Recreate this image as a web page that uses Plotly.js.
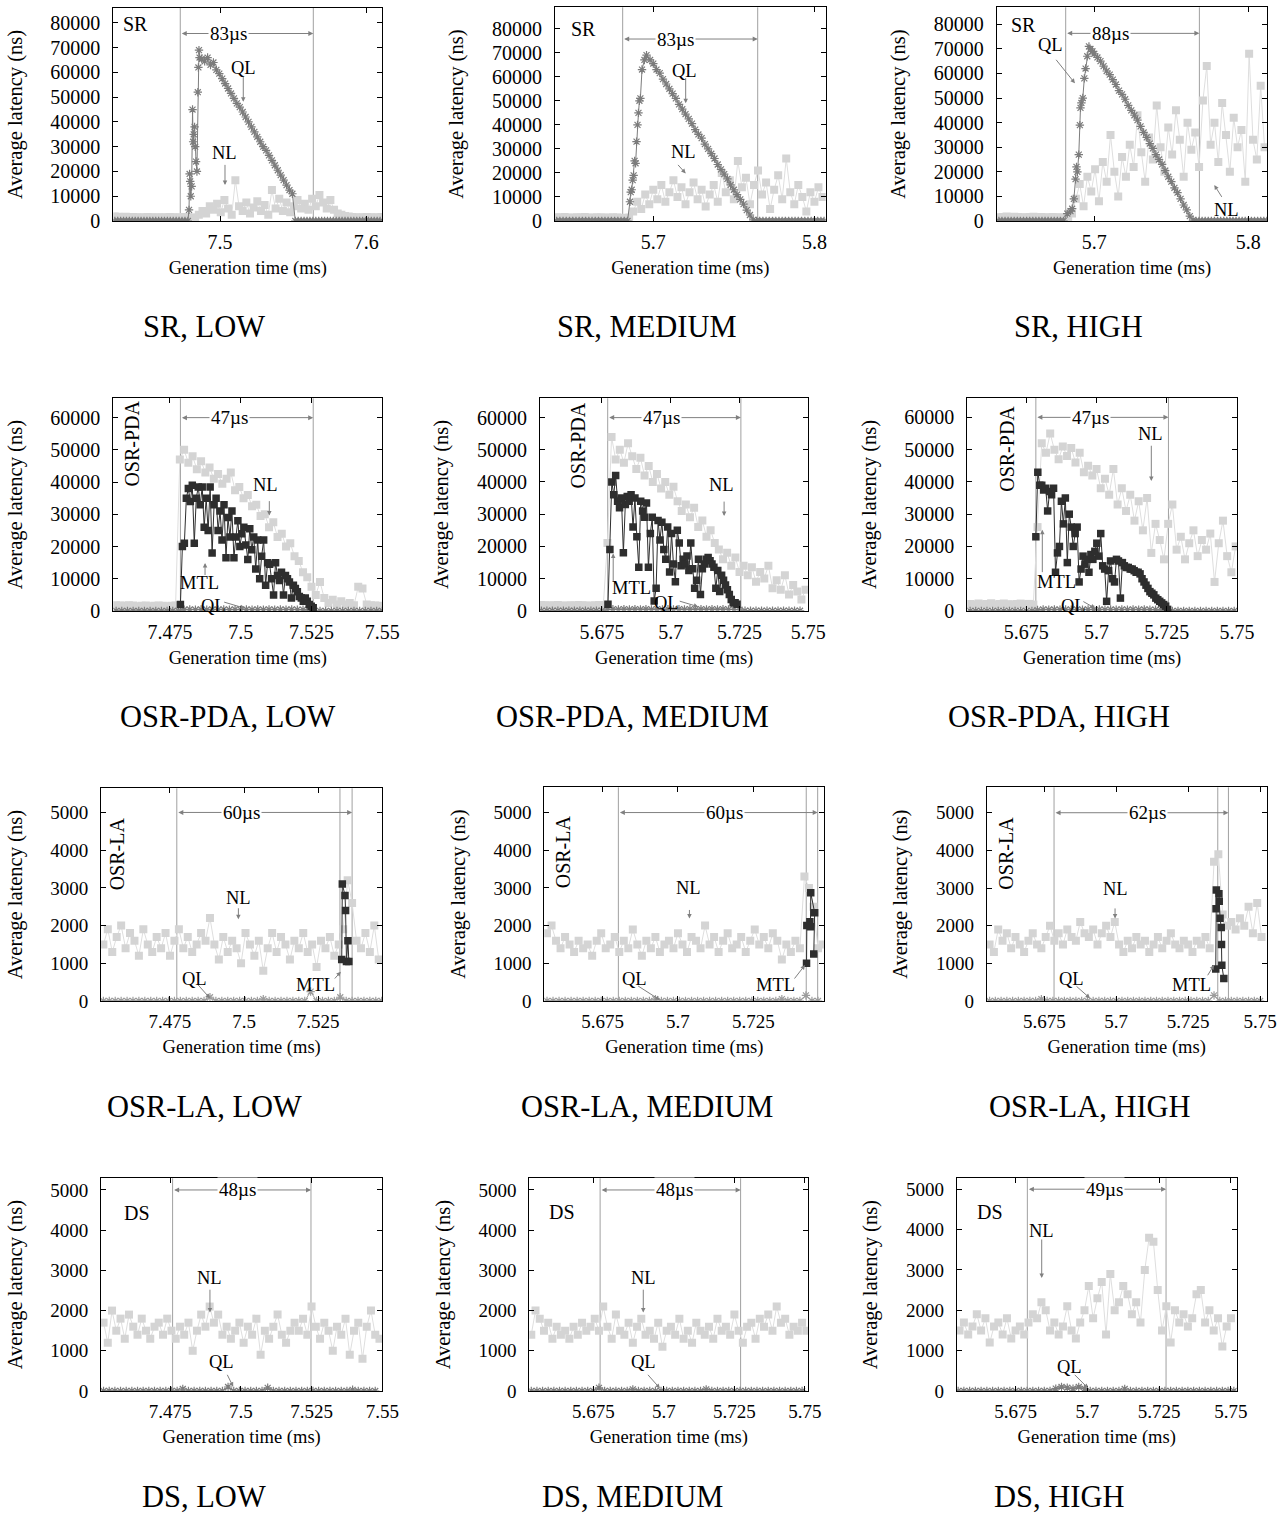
<!DOCTYPE html>
<html>
<head>
<meta charset="utf-8">
<script src="https://cdn.plot.ly/plotly-3.0.1.min.js"></script>
<style>
html,body{margin:0;padding:0;background:#fff;}
#chart{width:1282px;height:1513px;}
</style>
</head>
<body>
<div id="chart"></div>
<script>
// ---------------- sampling steps (ms) ----------------
const nlStepSR = 0.0025, nlStep = 0.0015, qlStep = 0.002, mtlStep = 0.0007;

// ---------------- tick labels ----------------
const srYTicks = [0,10000,20000,30000,40000,50000,60000,70000,80000];
const pdaYTicks = [0,10000,20000,30000,40000,50000,60000];
const smallYTicks = [0,1000,2000,3000,4000,5000];
const srLowXTicks = [7.5,7.6], srLowXText = ['7.5','7.6'];
const srMidXTicks = [5.7,5.8], srMidXText = ['5.7','5.8'];
const lowXTicks = [7.475,7.5,7.525,7.55], lowXText = ['7.475','7.5','7.525','7.55'];
const midXTicks = [5.675,5.7,5.725,5.75], midXText = ['5.675','5.7','5.725','5.75'];

// ---------------- SR ----------------
const srLowNLStart = 7.428;
const srLowNL = [1800,1700,1600,1700,1500,1600,1500,1400,1500,1600,1500,1400,1500,1400,1500,1600,1500,1400,1500,1600,1500,1400,1300,
  2500,4000,3000,6000,4500,7000,3500,8500,5000,2500,
  16500,6000,4000,7500,3000,5500,8000,4000,6500,2500,
  12500,5000,9000,4000,7500,3500,6000,8500,5000,7000,
  4500,9000,6000,10500,7500,5000,8500,4500,3000,2500,2000,
  1800,1600,1500,1400,1500,1600,1500,1400,1500,1600];
const srLowQLPreStart = 7.428;
const srLowQLPre = [0,0,0,0,0,0,0,0,0,0,0,0,0,0,0,0,0,0,0,0,0,0,0,0,0];
const srLowQLRiseT = [7.4780,7.4788,7.4792,7.4796,7.4800,7.4806,7.4812,7.4816,7.4820,7.4826,7.4830,7.4836,7.4842,7.4848,7.4852,7.4856,7.4860];
const srLowQLRise = [0,4500,19000,16000,10000,14000,45000,32000,35000,38000,30000,24000,20000,52000,62000,69000,66000];
const srLowQLFallStart = 7.4875;
const srLowQLFall = [65500,64500,66000,63000,64000,61000,59500,57500,55500,53500,51500,49500,47500,46000,44000,42000,40000,38000,36000,34000,32000,30000,28500,26500,24500,22500,20500,18500,16500,14500,12500,11000];
const srLowQLPostStart = 7.5515;
const srLowQLPost = [0,0,0,0,0,0,0,0,0,0,0,0,0,0,0,0,0,0,0,0,0,0,0,0,0,0,0,0,0,0];
const srLowMarks = [7.4728, 7.5638];

const srMedNLStart = 5.640;
const srMedNL = [1600,1500,1700,1500,1400,1600,1500,1700,1500,1400,1600,1500,1500,1400,1600,1500,1400,1300,1500,
  4000,8000,5000,11000,7000,13000,9000,15000,8000,12000,
  17000,10000,14000,7000,12000,16000,9000,13000,6000,11000,
  15000,8000,20000,12000,17000,9000,25000,14000,18000,7000,
  15000,21000,11000,16000,5000,13000,19000,9000,26000,12000,
  7000,15000,10000,4000,12000,8000,14000,10000];
const srMedQLPreStart = 5.640;
const srMedQLPre = [0,0,0,0,0,0,0,0,0,0,0,0,0,0,0,0,0,0,0,0,0,0];
const srMedQLRiseT = [5.6840,5.6855,5.6860,5.6866,5.6872,5.6878,5.6884,5.6890,5.6896,5.6902,5.6908,5.6914,5.6920,5.6930,5.6945,5.6958];
const srMedQLRise = [0,8000,12000,13000,17000,19000,25000,24000,33000,40000,45000,50000,51000,63000,67000,69000];
const srMedQLFallStart = 5.698;
const srMedQLFall = [67000,65500,63000,61500,59000,57000,55000,53000,51000,48500,46500,44500,42500,40500,38000,36000,34500,32000,30000,28000,26000,23500,21500,19500,17500,15000,13000,11000,9000,7000,4500,2500,500];
const srMedQLPostStart = 5.764;
const srMedQLPost = [0,0,0,0,0,0,0,0,0,0,0,0,0,0,0,0,0,0,0,0,0,0];
const srMedMarks = [5.6810, 5.7648];

const srHighNLStart = 5.638;
const srHighNL = [1500,1600,1800,1500,1700,1600,1500,1400,1600,1700,1500,1600,1400,1500,1600,1500,1400,1500,1600,
  3000,9000,15000,6000,18000,12000,21000,8000,24000,16000,
  35000,20000,10000,26000,18000,31000,22000,43000,28000,16000,
  34000,25000,47000,30000,20000,38000,27000,45000,33000,18000,
  40000,29000,36000,22000,49000,63000,31000,40000,24000,48000,
  35000,20000,42000,30000,37000,16000,68000,33000,25000,55000,30000];
const srHighQLPreStart = 5.638;
const srHighQLPre = [0,0,0,0,0,0,0,0,0,0,0,0,0,0,0,0,0,0,0,0,0];
const srHighQLRiseT = [5.6800,5.6824,5.6845,5.6856,5.6867,5.6878,5.6884,5.6890,5.6899,5.6906,5.6910,5.6916,5.6925,5.6935,5.6943,5.6954,5.6965,5.6975,5.6988];
const srHighQLRise = [0,3000,4000,5000,9000,17000,22000,20000,27000,39000,46000,48000,50000,58000,62000,67000,71000,70000,69000];
const srHighQLFallStart = 5.700;
const srHighQLFall = [68000,66500,65000,63000,61000,59500,57500,55500,53000,51500,49500,47000,45000,43000,41000,38500,36000,34000,31500,29500,27000,25000,23000,20500,18000,16000,13500,11500,9000,6500,4500,2000,300];
const srHighQLPostStart = 5.766;
const srHighQLPost = [0,0,0,0,0,0,0,0,0,0,0,0,0,0,0,0,0,0,0,0,0,0,0,0];
const srHighMarks = [5.6814, 5.7682];

// ---------------- OSR-PDA ----------------
const pdaLowNLStart = 7.456;
const pdaLowNL = [1800,1700,1600,1800,1700,1500,1600,1700,1500,1600,1700,1600,1500,1600,1700,
  47000,50000,46000,48000,44000,46500,43000,44500,41000,42500,
  39500,41000,43000,37500,38500,35000,36000,32500,33000,29500,
  30000,26000,27500,23000,24000,20000,21000,17000,15500,12000,
  10500,7500,5000,9000,4000,2500,3500,2000,3000,2000,
  2500,1800,7500,7000,2000,1800,1700,1600];
const pdaLowMTLStart = 7.4787;
const pdaLowMTL = [2000,20000,21000,35000,38000,34000,39000,21000,35000,38500,
  33000,38500,26000,35000,25000,38500,18000,33000,35000,25000,
  31000,22000,33000,16500,29000,23000,31000,16500,23000,28000,
  20000,24000,26000,20500,16000,25500,19000,23000,13000,22000,
  10000,17000,22000,8000,15000,14500,10000,5000,15000,11000,
  9500,12000,5000,11000,10000,9000,4000,8000,7000,6000,
  4500,4000,3000,4000,3000,2000,1500,1000];
const pdaLowQLStart = 7.456;
const pdaLowQL = [0,0,0,0,0,0,0,0,0,0,0,0,400,500,400,500,400,500,400,500,400,500,400,500,400,500,400,500,400,500,400,500,400,400,300,0,0,0,0,0,0,0,0,0,0,0,0,0];
const pdaLowMarks = [7.4787, 7.5256];

const pdaMedNLStart = 5.653;
const pdaMedNL = [1800,1700,1600,1700,1800,1600,1500,1700,1600,1800,1700,1600,1500,1700,1800,1600,
  21000,54000,47000,50000,46000,52000,48000,44000,47500,42000,
  45000,40000,42500,38000,40000,36000,38500,34000,31000,33000,
  29000,32000,26000,28000,23000,25000,21000,19000,16000,18000,
  14000,16500,12000,14000,11000,13500,9000,12000,10000,14000,
  7000,9500,6500,11000,5000,8000,6000,3500,6500];
const pdaMedMTLStart = 5.6772;
const pdaMedMTL = [2000,19000,40000,36000,42000,34000,32000,35000,18000,33000,
  35500,34000,36000,26000,35000,23000,13500,34000,31000,29000,
  33500,13500,24000,29000,3000,7000,28000,22000,27500,19000,
  16000,26000,12000,24000,14500,9000,25000,21000,14000,16000,
  14500,17000,12500,21000,13000,7000,9500,16000,5000,13000,
  14500,16000,16500,15500,14500,13500,7000,12500,6000,11000,
  9500,8000,6500,5000,3500,2500,2500,2000];
const pdaMedQLStart = 5.653;
const pdaMedQL = [0,0,0,0,0,0,0,0,0,0,0,0,300,500,400,500,400,500,400,500,400,500,400,500,400,500,400,500,400,500,400,500,400,500,400,400,300,0,0,0,0,0,0,0,0,0,0,0];
const pdaMedMarks = [5.6771, 5.7255];

const pdaHighNLStart = 5.655;
const pdaHighNL = [2200,2000,2300,2100,2200,2400,2000,2200,2300,2100,2000,2200,2300,2100,2200,2000,
  26000,52000,49000,55000,50000,47000,51000,48000,50500,46000,
  49000,43000,45000,42000,44000,38000,41000,36000,44000,33000,
  38000,31000,36000,28000,34000,25000,35000,18000,27000,22000,
  16000,27000,33000,19000,23000,16000,21000,25000,17000,22000,
  19000,24000,9000,21000,28000,17000,12000,20000];
const pdaHighMTLStart = 5.6784;
const pdaHighMTL = [23000,43000,39000,39000,37500,38000,31000,37000,36000,38000,
  12000,18000,20000,34000,27000,35000,15000,30000,26000,20000,
  24000,26000,9000,13000,17000,14500,16000,12000,17500,16000,
  18500,21000,17000,24000,14000,13000,3000,12500,15500,10000,
  9000,16000,15500,4000,15000,14000,13500,13500,13000,13000,
  12500,12000,12000,11500,10000,9000,8000,7000,6000,5500,
  5000,4000,3500,3000,2500,2000,1500,500];
const pdaHighQLStart = 5.655;
const pdaHighQL = [0,0,0,0,0,0,0,0,0,0,0,0,300,500,400,500,400,500,400,500,400,500,400,500,400,500,400,500,400,500,400,500,400,400,300,300,0,0,0,0,0,0,0,0,0,0,0,0];
const pdaHighMarks = [5.6784, 5.7256];

// ---------------- OSR-LA ----------------
const laLowNLStart = 7.4525;
const laLowNL = [1500,1900,1300,1700,2000,1400,1800,1600,1200,1900,
  1500,1300,1700,1400,1800,1200,1600,1900,1400,1700,
  1300,1500,1800,1600,2200,1500,1100,1700,1300,1600,
  1400,1000,1800,1500,1200,1600,800,1400,1800,1300,
  1700,1500,1100,1600,1400,1800,1300,1500,900,1600,
  1400,1700,1200,1500,1900,3200,2600,1600,1400,1800,
  1300,2000,1100];
const laLowMTLT = [7.5330,7.5332,7.5341,7.5343,7.5346,7.5351,7.5354];
const laLowMTL = [1100,3100,2800,2400,1050,1600,1050];
const laLowQLStart = 7.4525;
const laLowQL = [0,0,0,0,0,0,0,0,0,0,0,0,0,0,0,0,0,0,100,0,0,0,0,0,0,0,0,50,0,0,0,0,0,0,0,250,0,0,0,0,100,0,0,0,0,0,0,0];
const laLowMarks = [7.4773, 7.5324, 7.5365];

const laMedNLStart = 5.6565;
const laMedNL = [1800,2000,1600,1400,1700,1500,1300,1600,1400,1500,
  1200,1600,1800,1400,1500,1700,1300,1600,1400,1900,
  1500,1200,1600,1400,1700,1300,1500,1600,1400,1800,
  1500,1300,1700,1600,1400,2000,1500,1700,1300,1600,
  1800,1400,1500,1700,1300,1600,1900,1500,1700,1400,
  1800,1600,1100,1500,1300,1600,1400,3300,3000,2500,
  1400,1500];
const laMedMTLT = [5.7427,5.7428,5.7438,5.7440,5.7441,5.7454,5.7451];
const laMedMTL = [1000,2000,2100,1970,2870,2340,1250];
const laMedQLStart = 5.6565;
const laMedQL = [0,0,0,0,0,0,0,0,0,0,0,0,0,0,0,0,0,0,50,0,0,0,0,0,0,0,0,0,0,0,0,0,0,0,0,0,0,0,0,50,0,0,0,150,0,0];
const laMedMarks = [5.6802, 5.7426, 5.7464];

const laHighNLStart = 5.656;
const laHighNL = [1500,1300,1900,1600,1800,1400,1700,1500,1300,1600,
  1800,1500,1400,1700,2000,1600,1800,1500,1900,1700,
  1600,2100,1800,1700,1900,1500,1800,2000,1700,2100,
  1500,1300,1600,1400,1700,1500,1600,1300,1500,1700,
  1400,1600,1800,1500,1400,1600,1500,1300,1600,1500,
  1700,1400,3700,3900,2300,2000,2100,1900,2200,2000,
  2500,1800,2600,1700];
const laHighMTLT = [5.7346,5.7347,5.7348,5.7357,5.7358,5.7361,5.7365,5.7366,5.7367,5.7374];
const laHighMTL = [850,2450,2950,2850,2650,2200,1950,1500,950,600];
const laHighQLStart = 5.656;
const laHighQL = [0,0,0,0,0,0,0,0,0,50,0,0,0,0,0,0,0,0,0,0,0,0,0,0,0,0,0,0,0,0,0,0,0,0,0,0,0,0,0,150,0,0,0,0,0,0,0,0];
const laHighMarks = [5.6784, 5.7353, 5.7390];

// ---------------- DS ----------------
const dsLowNLStart = 7.4515;
const dsLowNL = [1700,1200,2000,1500,1800,1300,1900,1600,1400,1800,
  1500,1300,1600,1700,1400,1800,1500,1300,1600,1400,
  1700,1000,1500,1900,1600,2100,1700,1900,1400,1600,
  1300,1500,1700,1200,1600,1400,1800,900,1500,1300,
  1600,1900,1400,1200,1500,1700,1500,1800,1400,2100,
  1600,1300,1700,1500,1000,1600,1400,1800,900,1500,
  1700,800,1600,2000,1400,1300];
const dsLowQLStart = 7.4515;
const dsLowQL = [0,0,0,0,0,0,0,0,0,0,0,0,0,0,50,0,0,0,0,0,0,0,100,0,0,0,0,0,0,80,0,0,0,0,0,0,0,0,0,0,0,0,0,0,30,0,0,0,0];
const dsLowMarks = [7.4759, 7.5248];

const dsMedNLStart = 5.653;
const dsMedNL = [1400,2000,1800,1500,1700,1300,1600,1400,1500,1300,
  1600,1400,1700,1500,1600,1800,1500,2100,1600,1300,
  1900,1500,1400,1700,1200,1600,1800,1400,1500,1300,
  1700,1100,1500,1600,1400,1800,1300,1500,1200,1700,
  1500,1400,1600,1300,1800,1500,1600,1400,1900,1500,
  1200,1600,1700,1300,1800,1600,1900,1500,2100,1700,
  1800,1400,1600,1500,1700,1500];
const dsMedQLStart = 5.653;
const dsMedQL = [0,0,0,0,0,0,0,0,0,0,0,0,80,0,0,0,0,0,40,0,0,0,0,0,0,0,0,0,0,0,0,40,0,0,0,0,0,0,0,0,0,0,0,0,0,0,0,0,0];
const dsMedMarks = [5.6774, 5.7272];

const dsHighNLStart = 5.6555;
const dsHighNL = [1500,1700,1400,1600,1900,1500,1800,1200,1600,1700,
  1400,1800,1300,1500,1600,1400,1700,1900,1800,2200,
  2000,1500,1700,1400,1600,2100,1500,1300,1700,2000,
  2600,1800,2300,2700,1400,2900,2000,2200,2600,2400,
  1900,2200,1700,3000,3800,3700,2500,1500,2100,1200,
  2000,1700,1900,1600,1800,2400,2500,1700,2000,1500,
  1800,1100,1600,1800];
const dsHighQLStart = 5.655;
const dsHighQL = [0,0,0,0,0,0,0,0,0,0,0,0,0,0,0,0,0,60,100,80,60,100,60,0,0,0,0,0,0,50,0,0,0,0,0,0,0,0,0,0,0,0,0,0,0,0,0,0,0];
const dsHighMarks = [5.6791, 5.7274];

// ---------------- helpers ----------------
const W = 1282, H = 1513;
const FONT = 'Liberation Serif, Times New Roman, serif';
const C_NL = '#d4d4d4', C_NL_LINE = '#dedede', C_QL = '#7c7c7c', C_QL_LA = '#9c9c9c', C_MTL = '#2e2e2e', C_MARK = '#a0a0a0', C_ARR = '#808080';

function seg(start, step, vals) {
  return { x: vals.map((_, i) => +(start + i * step).toFixed(5)), y: vals.slice() };
}
function pts(t, vals) { return { x: t.slice(), y: vals.slice() }; }
function join() {
  const o = { x: [], y: [] };
  for (const s of arguments) { o.x = o.x.concat(s.x); o.y = o.y.concat(s.y); }
  return o;
}

// label: [text, tipX, tipY, tailDx, tailDy, textDx, textDy]  (pixel offsets, screen y down)
const panels = [
  { cap:'SR, LOW', capPos:[204,327], dx:[113.3,382.3], dy:[8,221], xr:[7.427,7.611], yr:[0,86000], fs:20,
    xt:srLowXTicks, xtt:srLowXText, yt:srYTicks,
    nl:seg(srLowNLStart, nlStepSR, srLowNL),
    ql:join(seg(srLowQLPreStart, qlStep, srLowQLPre), pts(srLowQLRiseT, srLowQLRise), seg(srLowQLFallStart, qlStep, srLowQLFall), seg(srLowQLPostStart, qlStep, srLowQLPost)),
    qlc:C_QL, marks:srLowMarks, spanText:'83µs', spanY:75700, spanTX:7.5055,
    scheme:'SR', sp:[0.084,0.925], rot:false,
    labels:[['QL',7.5159,48100,0,-26.7,0,-33.4],['NL',7.5034,14500,0,-21.7,0,-31.7]] },
  { cap:'SR, MEDIUM', capPos:[647,327], dx:[555,825.7], dy:[7.3,221], xr:[5.639,5.807], yr:[0,88900], fs:20,
    xt:srMidXTicks, xtt:srMidXText, yt:srYTicks,
    nl:seg(srMedNLStart, nlStepSR, srMedNL),
    ql:join(seg(srMedQLPreStart, qlStep, srMedQLPre), pts(srMedQLRiseT, srMedQLRise), seg(srMedQLFallStart, qlStep, srMedQLFall), seg(srMedQLPostStart, qlStep, srMedQLPost)),
    qlc:C_QL, marks:srMedMarks, spanText:'83µs', spanY:75700, spanTX:5.7135,
    scheme:'SR', sp:[0.105,0.897], rot:false,
    labels:[['QL',5.7201,49000,0,-26.6,-0.7,-32.6],['NL',5.7201,19800,-9,-10,-2.4,-21.6]] },
  { cap:'SR, HIGH', capPos:[1078,327], dx:[996.7,1267.3], dy:[7.3,221], xr:[5.6366,5.8123], yr:[0,86900], fs:20,
    xt:srMidXTicks, xtt:srMidXText, yt:srYTicks,
    nl:seg(srHighNLStart, nlStepSR, srHighNL),
    ql:join(seg(srHighQLPreStart, qlStep, srHighQLPre), pts(srHighQLRiseT, srHighQLRise), seg(srHighQLFallStart, qlStep, srHighQLFall), seg(srHighQLPostStart, qlStep, srHighQLPost)),
    qlc:C_QL, marks:srHighMarks, spanText:'88µs', spanY:76300, spanTX:5.7102,
    scheme:'SR', sp:[0.098,0.917], rot:false,
    labels:[['QL',5.6874,56000,-20,-25,-24.3,-38.3],['NL',5.7779,14600,8.4,13.3,12.4,25]] },

  { cap:'OSR-PDA, LOW', capPos:[227,717], dx:[113.3,382.3], dy:[398.3,611], xr:[7.455,7.55], yr:[0,66000], fs:20,
    xt:lowXTicks, xtt:lowXText, yt:pdaYTicks,
    nl:seg(pdaLowNLStart, nlStep, pdaLowNL), ql:seg(pdaLowQLStart, qlStep, pdaLowQL), mtl:seg(pdaLowMTLStart, mtlStep, pdaLowMTL),
    qlc:C_QL, marks:pdaLowMarks, spanText:'47µs', spanY:60000, spanTX:7.4962,
    scheme:'OSR-PDA', sp:[0.068,0.785], rot:true,
    labels:[['NL',7.5101,29600,0,-16,-4.3,-31],['MTL',7.4874,14860,0,13.4,-5.7,19.5],['QL',7.5015,840,-22.3,-6.6,-31.7,-2.5]] },
  { cap:'OSR-PDA, MEDIUM', capPos:[632,717], dx:[540,808.3], dy:[398.3,610.7], xr:[5.6525,5.75], yr:[0,66000], fs:20,
    xt:midXTicks, xtt:midXText, yt:pdaYTicks,
    nl:seg(pdaMedNLStart, nlStep, pdaMedNL), ql:seg(pdaMedQLStart, qlStep, pdaMedQL), mtl:seg(pdaMedMTLStart, mtlStep, pdaMedMTL),
    qlc:C_QL, marks:pdaMedMarks, spanText:'47µs', spanY:60000, spanTX:5.6968,
    scheme:'OSR-PDA', sp:[0.143,0.78], rot:true,
    labels:[['NL',5.7194,29400,0,-16,-2.3,-31],['MTL',5.6791,17800,0,30,18.4,35],['QL',5.7100,1240,-20,-6,-31.6,-4]] },
  { cap:'OSR-PDA, HIGH', capPos:[1059,717], dx:[967.3,1237], dy:[398,611], xr:[5.654,5.75], yr:[0,66000], fs:20,
    xt:midXTicks, xtt:midXText, yt:pdaYTicks,
    nl:seg(pdaHighNLStart, nlStep, pdaHighNL), ql:seg(pdaHighQLStart, qlStep, pdaHighQL), mtl:seg(pdaHighMTLStart, mtlStep, pdaHighMTL),
    qlc:C_QL, marks:pdaHighMarks, spanText:'47µs', spanY:60000, spanTX:5.6977,
    scheme:'OSR-PDA', sp:[0.146,0.76], rot:true,
    labels:[['NL',5.7195,40300,0,-36.7,-1,-46.7],['MTL',5.6807,25200,0,44,14.4,52.5],['QL',5.6995,840,-13.3,-7.6,-21.7,-2.5]] },

  { cap:'OSR-LA, LOW', capPos:[204,1107], dx:[101,382.3], dy:[788.3,1001], xr:[7.4517,7.5467], yr:[0,5640], fs:19,
    xt:lowXTicks, xtt:lowXText, yt:smallYTicks,
    nl:seg(laLowNLStart, nlStep, laLowNL), ql:seg(laLowQLStart, qlStep, laLowQL), mtl:pts(laLowMTLT, laLowMTL),
    qlc:C_QL_LA, marks:laLowMarks, spanText:'60µs', spanY:5000, spanTX:7.4992,
    scheme:'OSR-LA', sp:[0.056,0.693], rot:true,
    labels:[['NL',7.4981,2165,0,-12.6,0,-21],['QL',7.4885,72,-13.3,-15,-15,-19],['MTL',7.5327,776,-7.4,8.3,-25.7,13.3]] },
  { cap:'OSR-LA, MEDIUM', capPos:[647,1107], dx:[544.3,824.3], dy:[787.3,1001], xr:[5.6556,5.7486], yr:[0,5670], fs:19,
    xt:midXTicks, xtt:midXText, yt:smallYTicks,
    nl:seg(laMedNLStart, nlStep, laMedNL), ql:seg(laMedQLStart, qlStep, laMedQL), mtl:pts(laMedMTLT, laMedMTL),
    qlc:C_QL_LA, marks:laMedMarks, spanText:'60µs', spanY:5000, spanTX:5.7153,
    scheme:'OSR-LA', sp:[0.07,0.70], rot:true,
    labels:[['NL',5.7038,2190,0,-10,-1,-30],['QL',5.6940,26,-23.3,-15,-25,-20.7],['MTL',5.7422,954,-11.7,15,-30,20]] },
  { cap:'OSR-LA, HIGH', capPos:[1090,1107], dx:[986.7,1266.7], dy:[787.3,1001], xr:[5.655,5.7523], yr:[0,5675], fs:19,
    xt:midXTicks, xtt:midXText, yt:smallYTicks,
    nl:seg(laHighNLStart, nlStep, laHighNL), ql:seg(laHighQLStart, qlStep, laHighQL), mtl:pts(laHighMTLT, laHighMTL),
    qlc:C_QL_LA, marks:laHighMarks, spanText:'62µs', spanY:5000, spanTX:5.7109,
    scheme:'OSR-LA', sp:[0.068,0.693], rot:true,
    labels:[['NL',5.6996,2190,0,-11.6,0,-30],['QL',5.6909,72,-15,-13.3,-18.3,-19],['MTL',5.7340,954,-7.3,11.7,-22.3,20]] },

  { cap:'DS, LOW', capPos:[204,1497], dx:[101,382.3], dy:[1178.3,1391], xr:[7.4506,7.55], yr:[0,5290], fs:19,
    xt:lowXTicks, xtt:lowXText, yt:smallYTicks,
    nl:seg(dsLowNLStart, nlStep, dsLowNL), ql:seg(dsLowQLStart, qlStep, dsLowQL),
    qlc:C_QL, marks:dsLowMarks, spanText:'48µs', spanY:5000, spanTX:7.4987,
    scheme:'DS', sp:[0.129,0.835], rot:false,
    labels:[['NL',7.4891,1950,0,-24.4,0,-34.4],['QL',7.4973,107,-6.6,-13.4,-11.6,-25]] },
  { cap:'DS, MEDIUM', capPos:[632,1497], dx:[529.3,808.3], dy:[1178.3,1391], xr:[5.6523,5.7512], yr:[0,5290], fs:19,
    xt:midXTicks, xtt:midXText, yt:smallYTicks,
    nl:seg(dsMedNLStart, nlStep, dsMedNL), ql:seg(dsMedQLStart, qlStep, dsMedQL),
    qlc:C_QL, marks:dsMedMarks, spanText:'48µs', spanY:5000, spanTX:5.7039,
    scheme:'DS', sp:[0.116,0.843], rot:false,
    labels:[['NL',5.6927,1950,0,-24.4,0,-34.4],['QL',5.6986,67,-13.3,-15,-16.7,-26.6]] },
  { cap:'DS, HIGH', capPos:[1059,1497], dx:[956.7,1236.7], dy:[1178.3,1391], xr:[5.6545,5.752], yr:[0,5270], fs:19,
    xt:midXTicks, xtt:midXText, yt:smallYTicks,
    nl:seg(dsHighNLStart, nlStep, dsHighNL), ql:seg(dsHighQLStart, qlStep, dsHighQL),
    qlc:C_QL, marks:dsHighMarks, spanText:'49µs', spanY:5000, spanTX:5.7061,
    scheme:'DS', sp:[0.119,0.843], rot:false,
    labels:[['NL',5.6841,2800,0,-40,0,-46.6],['QL',5.7003,67,-15,-15,-18.3,-21.6]] }
];

const traces = [], shapes = [], annotations = [];
const layout = {
  width: W, height: H, margin: {l:0, r:0, t:0, b:0},
  paper_bgcolor: '#fff', plot_bgcolor: '#fff', showlegend: false,
  font: {family: FONT, size: 18, color: '#000'}
};

panels.forEach((p, i) => {
  const k = i + 1;
  const xa = k === 1 ? 'x' : 'x' + k, ya = k === 1 ? 'y' : 'y' + k;
  const xKey = k === 1 ? 'xaxis' : 'xaxis' + k, yKey = k === 1 ? 'yaxis' : 'yaxis' + k;
  const common = {
    showline: true, mirror: 'ticks', linecolor: '#000', linewidth: 1,
    ticks: 'inside', ticklen: 5, tickwidth: 1, tickcolor: '#000',
    showgrid: false, zeroline: false, automargin: false, fixedrange: true,
    tickfont: {family: FONT, size: p.fs, color: '#000'}
  };
  layout[xKey] = Object.assign({}, common, {
    domain: [p.dx[0] / W, p.dx[1] / W], range: p.xr, anchor: ya,
    tickmode: 'array', tickvals: p.xt, ticktext: p.xtt, ticklabelstandoff: 3,
    title: {text: 'Generation time (ms)', font: {family: FONT, size: 18.5, color: '#000'}, standoff: 9}
  });
  layout[yKey] = Object.assign({}, common, {
    domain: [1 - p.dy[1] / H, 1 - p.dy[0] / H], range: p.yr, anchor: xa,
    tickmode: 'array', tickvals: p.yt, tickformat: 'd', ticklabelstandoff: 8,
    title: {text: 'Average latency (ns)', font: {family: FONT, size: 20.5, color: '#000'}, standoff: 22}
  });

  traces.push({
    type: 'scatter', mode: 'lines+markers', x: p.nl.x, y: p.nl.y, xaxis: xa, yaxis: ya,
    line: {color: C_NL_LINE, width: 1}, marker: {symbol: 'square', size: 8, color: C_NL}, hoverinfo: 'skip'
  });
  traces.push({
    type: 'scatter', mode: 'lines+markers', x: p.ql.x, y: p.ql.y, xaxis: xa, yaxis: ya,
    line: {color: p.qlc, width: 1},
    marker: {symbol: 'asterisk-open', size: 7, color: p.qlc, line: {color: p.qlc, width: 1.2}}, hoverinfo: 'skip'
  });
  if (p.mtl) {
    traces.push({
      type: 'scatter', mode: 'lines+markers', x: p.mtl.x, y: p.mtl.y, xaxis: xa, yaxis: ya,
      line: {color: C_MTL, width: 1}, marker: {symbol: 'square', size: 7.5, color: C_MTL}, hoverinfo: 'skip'
    });
  }

  // interval boundary lines
  p.marks.forEach(t => shapes.push({
    type: 'line', xref: xa, yref: ya + ' domain', x0: t, x1: t, y0: 0, y1: 1,
    line: {color: C_MARK, width: 1}, layer: 'below'
  }));
  // double-headed span arrow
  const t0 = p.marks[0], t1 = p.marks[p.marks.length - 1];
  annotations.push({
    xref: xa, yref: ya, axref: xa, ayref: ya, x: t1, y: p.spanY, ax: t0, ay: p.spanY,
    text: '', showarrow: true, arrowside: 'end+start', arrowhead: 2, startarrowhead: 2,
    arrowsize: 1, startarrowsize: 1, arrowwidth: 1, arrowcolor: C_ARR
  });
  annotations.push({
    xref: xa, yref: ya, x: p.spanTX, y: p.spanY, text: p.spanText, showarrow: false,
    bgcolor: '#fff', borderpad: 1, font: {family: FONT, size: 19, color: '#000'}
  });
  // scheme name
  annotations.push({
    xref: xa + ' domain', yref: ya + ' domain', x: p.sp[0], y: p.sp[1], text: p.scheme,
    showarrow: false, textangle: p.rot ? -90 : 0, xanchor: 'center', yanchor: 'middle',
    font: {family: FONT, size: 20, color: '#000'}
  });
  // series labels with pointer arrows
  p.labels.forEach(l => {
    annotations.push({
      xref: xa, yref: ya, x: l[1], y: l[2], ax: l[3], ay: l[4], text: '', showarrow: true,
      arrowhead: 2, arrowsize: 0.9, arrowwidth: 1, arrowcolor: C_ARR
    });
    annotations.push({
      xref: xa, yref: ya, x: l[1], y: l[2], xshift: l[5], yshift: -l[6], text: l[0], showarrow: false,
      font: {family: FONT, size: 18.5, color: '#000'}
    });
  });
  // caption
  annotations.push({
    xref: 'paper', yref: 'paper', x: p.capPos[0] / W, y: 1 - p.capPos[1] / H, text: p.cap,
    showarrow: false, xanchor: 'center', yanchor: 'middle', font: {family: FONT, size: 30.5, color: '#000'}
  });
});

layout.shapes = shapes;
layout.annotations = annotations;
Plotly.newPlot('chart', traces, layout, {staticPlot: true, displayModeBar: false});
</script>
</body>
</html>
